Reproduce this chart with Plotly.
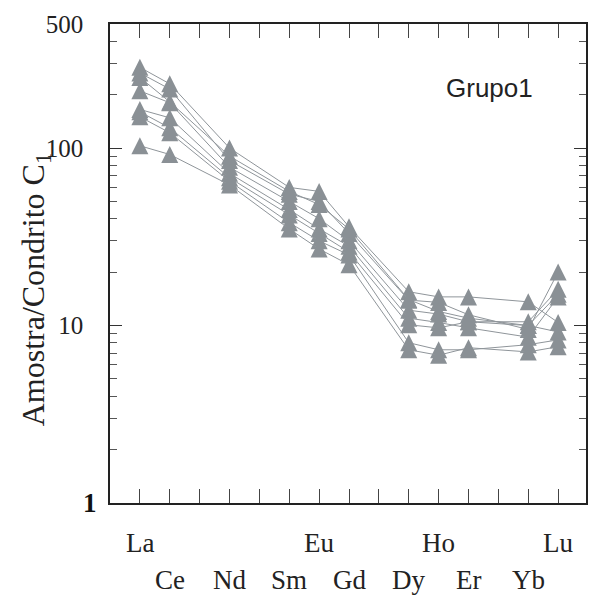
import plotly.graph_objects as go

# Rare earth element sequence (every position gets a tick mark)
elements = ["La", "Ce", "Pr", "Nd", "Pm", "Sm", "Eu", "Gd", "Tb",
            "Dy", "Ho", "Er", "Tm", "Yb", "Lu"]
# Elements analysed in the samples
analysed = ["La", "Ce", "Nd", "Sm", "Eu", "Gd", "Dy", "Ho", "Er", "Yb", "Lu"]

# Chondrite-normalised concentrations, Grupo1 samples
s1 = [285, 230, 100, 60, 57, 36, 15.5, 14.5, 14.5, 13.6, 10.4]
s2 = [265, 215, 85, 55, 50, 33, 13.9, 13.5, 11.5, 9.5, 20]
s3 = [210, 180, 78, 50, 40, 30, 12.2, 11.6, 10.5, 10.5, 16]
s4 = [165, 148, 72, 45, 35, 28, 11.0, 10.4, 9.7, 8.6, 14.5]
s5 = [160, 130, 68, 42, 33, 26, 10.1, 9.7, 10.5, 10.0, 9.2]
s6 = [150, 122, 65, 38, 30, 25, 8.0, 7.3, 7.3, 7.8, 8.3]
s7 = [103, 92, 62, 35, 27, 22, 7.3, 6.8, 7.5, 7.1, 7.6]
s8 = [250, 182, 90, 57, 48, 35, 14.0, 12.0, 11.0, 10.0, 15]
samples = [s1, s2, s3, s4, s5, s6, s7, s8]

# Label rows under the axis
upper_row = ["La", "Eu", "Ho", "Lu"]
lower_row = ["Ce", "Nd", "Sm", "Gd", "Dy", "Er", "Yb"]

# Y axis labels; the bottom one is set in bold separately
y_ticks = [10, 100, 500]
y_ticktext = ["10", "100", "500"]
y_base = 1
y_minor = [2, 3, 4, 5, 6, 7, 8, 9, 20, 30, 40, 50, 60, 70, 80, 90, 200, 300, 400]

pos = {el: i for i, el in enumerate(elements)}
xs = [pos[el] for el in analysed]

MARK = "#8a9095"
LINE = "#8f959a"
SERIF = "Liberation Serif, Times New Roman, serif"
MSIZE = 17

fig = go.Figure()
for vals in samples:
    fig.add_trace(go.Scatter(
        x=xs, y=vals, mode="lines+markers",
        line=dict(color=LINE, width=1),
        marker=dict(symbol="arrow-down", angle=180, standoff=MSIZE / 2,
                    size=MSIZE, color=MARK, line=dict(width=0)),
        showlegend=False, hoverinfo="skip",
    ))

fig.update_layout(
    width=591, height=598,
    margin=dict(l=110, r=3, t=24, b=95),
    plot_bgcolor="white", paper_bgcolor="white",
    xaxis=dict(
        range=[-1, -1 + 478 / 30], tickvals=list(range(len(elements))),
        showticklabels=False, ticks="inside", ticklen=14,
        tickcolor="#444", tickwidth=1.2, showgrid=False, zeroline=False,
        showline=True, linecolor="#222", linewidth=1.5, mirror="ticks",
    ),
    yaxis=dict(
        type="log", range=[0, 2.69897],
        tickvals=y_ticks, ticktext=y_ticktext, ticks="inside", ticklen=12,
        tickcolor="#333", tickwidth=1.2,
        minor=dict(tickvals=y_minor, ticks="inside", ticklen=7,
                   tickcolor="#555", tickwidth=1),
        showgrid=False, zeroline=False, showline=True, linecolor="#222",
        linewidth=1.5, mirror="ticks", ticklabelstandoff=20,
        tickfont=dict(family=SERIF, size=25, color="#222"),
    ),
)

fig.add_annotation(x=0, y=0, xref="paper", yref="y", text=f"<b>{y_base}</b>",
                   showarrow=False, xanchor="right", yanchor="middle",
                   xshift=-11, font=dict(family=SERIF, size=27, color="#111"))

for el in upper_row:
    fig.add_annotation(x=pos[el], y=-0.083, xref="x", yref="paper",
                       text=el, showarrow=False, yanchor="middle",
                       font=dict(family=SERIF, size=27, color="#222"))
for el in lower_row:
    fig.add_annotation(x=pos[el], y=-0.161, xref="x", yref="paper",
                       text=el, showarrow=False, yanchor="middle",
                       font=dict(family=SERIF, size=27, color="#222"))

fig.add_annotation(x=(35 - 110) / 478, y=(503 - 290) / 479, xref="paper",
                   yref="paper", text="Amostra/Condrito C<sub>1</sub>",
                   textangle=-90, showarrow=False, xanchor="center",
                   yanchor="middle",
                   font=dict(family=SERIF, size=32, color="#222"))

fig.add_annotation(x=(491 - 110) / 478, y=0.866, xref="paper", yref="paper",
                   text="Grupo1", showarrow=False,
                   xanchor="center", yanchor="middle",
                   font=dict(family="Liberation Sans, Arial, sans-serif",
                             size=26, color="#222"))

fig.write_html("out.html")
